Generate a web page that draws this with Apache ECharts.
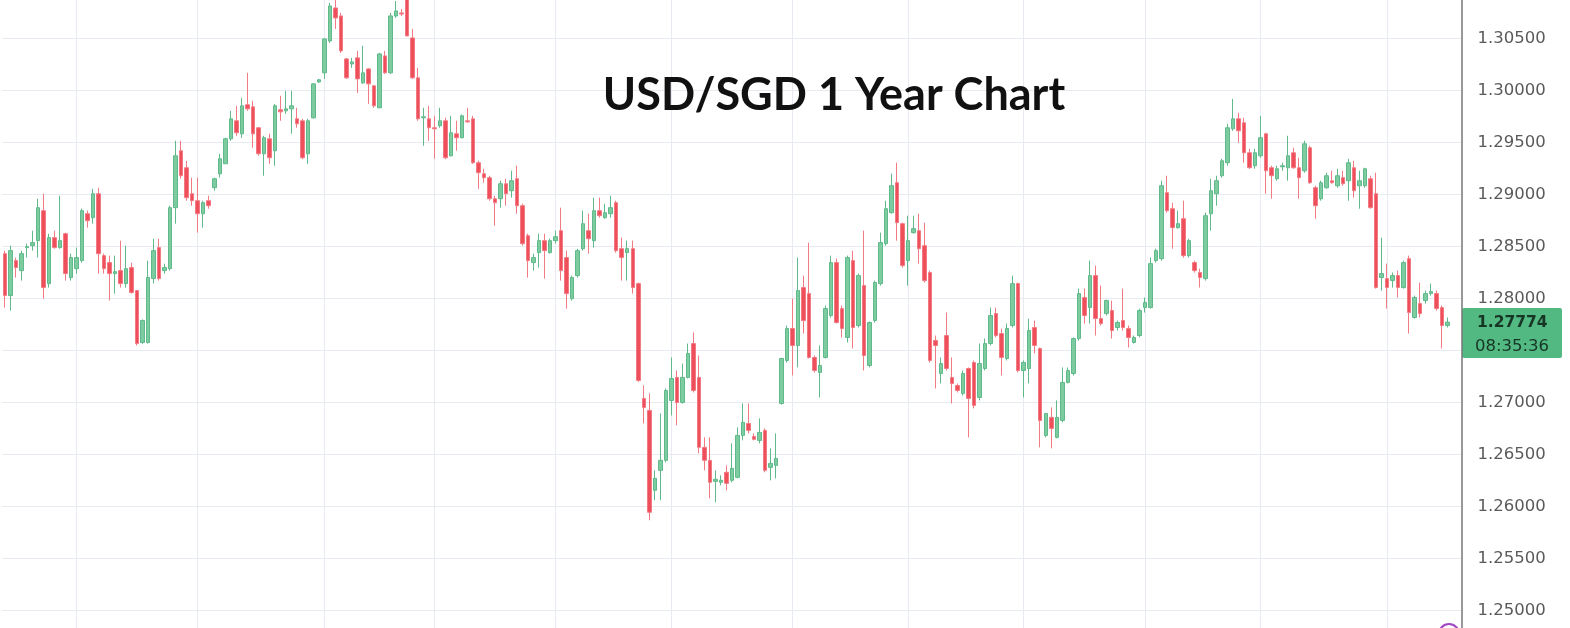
<!DOCTYPE html>
<html><head><meta charset="utf-8">
<script src="https://cdn.jsdelivr.net/npm/echarts/dist/echarts.min.js"></script>
<style>html,body{margin:0;padding:0;background:#fff}#c{width:1570px;height:628px}</style>
</head><body><div id="c"></div>
<script>
const opens=[1.28432,1.28029,1.28365,1.28269,1.28490,1.28509,1.28557,1.28845,1.28144,1.28586,1.28490,1.28624,1.28202,1.28288,1.28365,1.28816,1.28778,1.29008,1.28413,1.28346,1.28240,1.28269,1.28144,1.28298,1.28077,1.27578,1.27578,1.28192,1.28490,1.28269,1.28288,1.28874,1.29421,1.29258,1.29008,1.28941,1.28816,1.28941,1.29066,1.29200,1.29296,1.29536,1.29709,1.29584,1.29863,1.29843,1.29642,1.29392,1.29536,1.29421,1.29815,1.29805,1.29824,1.29728,1.29709,1.29392,1.29738,1.30083,1.30170,1.30477,1.30794,1.30717,1.30304,1.30256,1.30314,1.30074,1.30208,1.30045,1.29834,1.30333,1.30170,1.30717,1.30746,1.30890,1.30506,1.30122,1.29738,1.29728,1.29642,1.29661,1.29709,1.29373,1.29584,1.29546,1.29709,1.29728,1.29306,1.29200,1.29162,1.28960,1.28960,1.29104,1.29037,1.29152,1.28893,1.28605,1.28346,1.28442,1.28557,1.28442,1.28557,1.28653,1.28394,1.28000,1.28221,1.28480,1.28653,1.28557,1.28845,1.28778,1.28816,1.28922,1.28480,1.28442,1.28480,1.28144,1.27040,1.26925,1.26157,1.26349,1.26445,1.27021,1.27242,1.27002,1.27242,1.27568,1.27242,1.26570,1.26445,1.26243,1.26234,1.26330,1.26253,1.26282,1.26685,1.26800,1.26675,1.26637,1.26733,1.26378,1.26397,1.26992,1.27405,1.27712,1.27549,1.28106,1.28048,1.27434,1.27290,1.27434,1.27837,1.28346,1.27904,1.27626,1.28365,1.27741,1.28125,1.27357,1.27789,1.28144,1.28528,1.28826,1.29114,1.28720,1.28365,1.28634,1.28653,1.28509,1.28250,1.27597,1.27280,1.27645,1.27242,1.27165,1.27088,1.27328,1.27386,1.27050,1.27328,1.27568,1.27856,1.27664,1.27424,1.27741,1.28144,1.27309,1.27328,1.27722,1.27520,1.26685,1.26858,1.26666,1.26829,1.27194,1.27280,1.27616,1.28010,1.27914,1.28221,1.27808,1.27856,1.27885,1.27722,1.27789,1.27712,1.27578,1.27645,1.27914,1.27914,1.28365,1.28384,1.29018,1.28864,1.28682,1.28768,1.28413,1.28346,1.28250,1.28192,1.28816,1.29008,1.29181,1.29306,1.29632,1.29728,1.29690,1.29402,1.29277,1.29373,1.29584,1.29258,1.29152,1.29267,1.29258,1.29402,1.29258,1.29229,1.29450,1.29066,1.28960,1.29066,1.29133,1.29085,1.29162,1.29133,1.29258,1.29085,1.29085,1.29152,1.29008,1.28202,1.28192,1.28173,1.28221,1.28106,1.28384,1.27818,1.27952,1.27981,1.28048,1.28048,1.27914,1.27741];
const closes=[1.28029,1.28461,1.28298,1.28432,1.28499,1.28538,1.28874,1.28106,1.28586,1.28490,1.28557,1.28240,1.28394,1.28394,1.28845,1.28749,1.29008,1.28432,1.28288,1.28240,1.28259,1.28144,1.28288,1.28058,1.27568,1.27789,1.28202,1.28461,1.28192,1.28298,1.28874,1.29373,1.29181,1.28970,1.28941,1.28816,1.28922,1.28893,1.29152,1.29344,1.29536,1.29728,1.29594,1.29853,1.29824,1.29584,1.29392,1.29546,1.29354,1.29853,1.29795,1.29824,1.29853,1.29680,1.29354,1.29709,1.30064,1.30103,1.30496,1.30813,1.30698,1.30381,1.30122,1.30275,1.30112,1.30170,1.30064,1.29853,1.30352,1.30170,1.30717,1.30765,1.30736,1.30525,1.30122,1.29728,1.29747,1.29642,1.29632,1.29709,1.29354,1.29594,1.29546,1.29757,1.29699,1.29306,1.29210,1.29162,1.28960,1.28922,1.29104,1.29008,1.29133,1.28893,1.28528,1.28365,1.28394,1.28557,1.28461,1.28557,1.28595,1.28269,1.28048,1.28202,1.28461,1.28720,1.28576,1.28845,1.28797,1.28826,1.28874,1.28461,1.28394,1.28480,1.28106,1.27213,1.26954,1.25946,1.26272,1.26445,1.27117,1.27232,1.27002,1.27242,1.27472,1.27117,1.26570,1.26445,1.26234,1.26263,1.26253,1.26224,1.26368,1.26685,1.26810,1.26733,1.26647,1.26714,1.26349,1.26416,1.26464,1.27424,1.27712,1.27549,1.28077,1.27789,1.27434,1.27309,1.27357,1.27904,1.28346,1.27770,1.27712,1.28394,1.27722,1.28221,1.27453,1.27770,1.28154,1.28538,1.28864,1.29085,1.28730,1.28317,1.28557,1.28672,1.28480,1.28173,1.27405,1.27549,1.27376,1.27328,1.27184,1.27117,1.27280,1.27040,1.26973,1.27376,1.27568,1.27837,1.27645,1.27434,1.27712,1.28144,1.27309,1.27386,1.27693,1.27549,1.26829,1.26896,1.26752,1.26858,1.27194,1.27309,1.27616,1.28048,1.27837,1.28221,1.27808,1.27760,1.27981,1.27693,1.27770,1.27722,1.27626,1.27626,1.27885,1.27962,1.28336,1.28461,1.29085,1.28845,1.28682,1.28720,1.28413,1.28557,1.28269,1.28202,1.28797,1.29037,1.29133,1.29325,1.29642,1.29728,1.29613,1.29402,1.29258,1.29402,1.29546,1.29229,1.29181,1.29248,1.29277,1.29373,1.29258,1.29162,1.29488,1.29114,1.28893,1.29114,1.29181,1.29114,1.29181,1.29104,1.29306,1.29037,1.29133,1.29248,1.28874,1.28106,1.28240,1.28106,1.28221,1.28106,1.28346,1.27866,1.28010,1.27856,1.28048,1.28067,1.27904,1.27741,1.27774];
const lows=[1.27914,1.27885,1.28202,1.28173,1.28394,1.28461,1.28394,1.28000,1.28106,1.28480,1.28480,1.28173,1.28173,1.28240,1.28346,1.28682,1.28720,1.28240,1.28240,1.27981,1.28048,1.28106,1.28106,1.28048,1.27549,1.27565,1.27568,1.28144,1.28173,1.28240,1.28269,1.28720,1.29152,1.28941,1.28893,1.28634,1.28682,1.28864,1.29037,1.29162,1.29296,1.29517,1.29565,1.29546,1.29805,1.29450,1.29373,1.29181,1.29296,1.29277,1.29709,1.29776,1.29584,1.29642,1.29340,1.29296,1.29730,1.30074,1.30112,1.30458,1.30592,1.30362,1.30112,1.30218,1.29978,1.30064,1.29872,1.29834,1.29830,1.30160,1.30160,1.30698,1.30717,1.30520,1.30112,1.29709,1.29469,1.29517,1.29344,1.29642,1.29340,1.29365,1.29421,1.29540,1.29690,1.29296,1.29056,1.29114,1.28941,1.28701,1.28874,1.28893,1.28970,1.28816,1.28509,1.28202,1.28269,1.28298,1.28192,1.28432,1.28528,1.28173,1.27904,1.27981,1.28202,1.28461,1.28432,1.28490,1.28778,1.28768,1.28778,1.28442,1.28173,1.28173,1.28048,1.27200,1.26800,1.25869,1.26061,1.26061,1.26426,1.26877,1.26781,1.26990,1.27232,1.27098,1.26512,1.26349,1.26080,1.26042,1.26205,1.26157,1.26234,1.26272,1.26637,1.26704,1.26637,1.26608,1.26330,1.26253,1.26272,1.26980,1.27386,1.27261,1.27338,1.27664,1.27424,1.27290,1.27050,1.27424,1.27818,1.27760,1.27626,1.27578,1.27520,1.27722,1.27309,1.27338,1.27770,1.28125,1.28509,1.28816,1.28557,1.28298,1.28125,1.28624,1.28336,1.28154,1.27386,1.27136,1.27184,1.27309,1.26992,1.27098,1.27069,1.26666,1.26944,1.27021,1.27309,1.27549,1.27626,1.27261,1.27405,1.27722,1.27290,1.27050,1.27184,1.27472,1.26570,1.26666,1.26560,1.26656,1.26810,1.27184,1.27261,1.27597,1.27760,1.27760,1.27645,1.27741,1.27837,1.27616,1.27693,1.27693,1.27530,1.27568,1.27626,1.27866,1.27904,1.28346,1.28365,1.28826,1.28480,1.28672,1.28394,1.28394,1.28250,1.28106,1.28173,1.28653,1.28893,1.29162,1.29277,1.29613,1.29498,1.29306,1.29248,1.29248,1.29354,1.29008,1.28960,1.29133,1.29229,1.29133,1.29248,1.28960,1.29210,1.29104,1.28768,1.28941,1.29056,1.29104,1.29066,1.29085,1.28941,1.28970,1.28864,1.29066,1.28864,1.28096,1.28077,1.27904,1.28106,1.28010,1.28096,1.27664,1.27808,1.27818,1.27952,1.28029,1.27885,1.27520,1.27722];
const highs=[1.28461,1.28509,1.28394,1.28461,1.28528,1.28653,1.28960,1.29008,1.28624,1.28653,1.28989,1.28634,1.28432,1.28490,1.28864,1.28845,1.29056,1.29066,1.28432,1.28413,1.28413,1.28557,1.28509,1.28346,1.28080,1.27800,1.28365,1.28576,1.28576,1.28336,1.28893,1.29517,1.29517,1.29325,1.29162,1.29162,1.28941,1.28989,1.29162,1.29392,1.29546,1.29805,1.29853,1.29930,1.30170,1.29901,1.29650,1.29565,1.29584,1.29872,1.29949,1.29997,1.29997,1.29834,1.29728,1.29728,1.30070,1.30112,1.30500,1.30842,1.30880,1.30746,1.30314,1.30314,1.30381,1.30429,1.30215,1.30050,1.30362,1.30381,1.30746,1.30861,1.30784,1.30940,1.30592,1.30218,1.29834,1.29853,1.29757,1.29834,1.29738,1.29757,1.29709,1.29770,1.29834,1.29757,1.29325,1.29248,1.29181,1.28989,1.29133,1.29152,1.29229,1.29277,1.28912,1.28624,1.28432,1.28624,1.28624,1.28576,1.28653,1.28874,1.28461,1.28221,1.28480,1.28845,1.28816,1.28970,1.28970,1.28912,1.28989,1.28941,1.28586,1.28557,1.28557,1.28154,1.27165,1.27088,1.26349,1.26896,1.27136,1.27434,1.27309,1.27376,1.27568,1.27674,1.27453,1.26666,1.26666,1.26349,1.26301,1.26397,1.26608,1.26762,1.26992,1.26992,1.26704,1.26848,1.26752,1.26560,1.26704,1.27430,1.27741,1.28000,1.28394,1.28221,1.28538,1.27453,1.27549,1.27933,1.28413,1.28384,1.27933,1.28413,1.28461,1.28240,1.28653,1.27780,1.28173,1.28634,1.28941,1.29200,1.29306,1.28730,1.28797,1.28797,1.28816,1.28730,1.28269,1.27645,1.27434,1.27866,1.27434,1.27184,1.27309,1.27338,1.27405,1.27568,1.27616,1.27914,1.27914,1.27712,1.27760,1.28221,1.28154,1.27405,1.27808,1.27789,1.27530,1.26900,1.26954,1.27021,1.27338,1.27338,1.27626,1.28096,1.28096,1.28365,1.28317,1.28125,1.27990,1.27981,1.27789,1.28096,1.27741,1.27645,1.27904,1.28010,1.28394,1.28480,1.29133,1.29181,1.28922,1.28845,1.28941,1.28576,1.28365,1.28288,1.28826,1.29152,1.29181,1.29344,1.29680,1.29920,1.29786,1.29738,1.29440,1.29440,1.29757,1.29594,1.29277,1.29277,1.29306,1.29565,1.29450,1.29354,1.29517,1.29469,1.29085,1.29133,1.29210,1.29229,1.29248,1.29229,1.29344,1.29325,1.29229,1.29258,1.29181,1.29210,1.28586,1.28336,1.28250,1.28269,1.28365,1.28413,1.28029,1.28154,1.28077,1.28144,1.28077,1.27933,1.27818];
const monthStarts=[13,35,58,78,100,121,143,164,185,207,228,251];
const titleText='USD/SGD 1 Year Chart';
const lastPrice=1.27774;
const lastTime='08:35:36';
const emptySlots=2;

const categories=[];
for(let i=0;i<opens.length+emptySlots;i++) categories.push('d'+i);
const candleData=opens.map((o,i)=>[o,closes[i],lows[i],highs[i]]);

const AXIS_X=1461.5;
const chart=echarts.init(document.getElementById('c'),null,{renderer:'canvas'});
chart.setOption({
  animation:false,
  backgroundColor:'#ffffff',
  grid:{left:2.25,right:1570-AXIS_X,top:-13.5,bottom:-34.7,outerBoundsMode:'none',containLabel:false},
  xAxis:{type:'category',data:categories,boundaryGap:true,show:false,splitLine:{show:false}},
  yAxis:{type:'value',position:'right',min:1.245,max:1.31,interval:0.005,scale:true,
    axisLine:{show:true,lineStyle:{color:'#767676',width:1.5}},
    axisTick:{show:false},
    splitLine:{show:true,lineStyle:{color:'#e7eaf0',width:1}},
    axisLabel:{show:true,margin:16,color:'#5a5a5a',fontSize:16.5,fontFamily:'"DejaVu Sans", Verdana, sans-serif',
      formatter:function(v){return Math.abs(v-1.275)<1e-7?'':v.toFixed(5);}}
  },
  series:[{
    type:'candlestick',
    data:candleData,
    barWidth:4,
    z:3,
    itemStyle:{color:'#7dcca0',color0:'#ef4f5b',borderColor:'#5fb98a',borderColor0:'#f27a83',borderWidth:1},
    markLine:{silent:true,symbol:['none','none'],z:1,animation:false,
      label:{show:false},
      lineStyle:{color:'#e7eaf0',width:1,type:'solid'},
      emphasis:{disabled:true},
      data:monthStarts.map(i=>({xAxis:i}))}
  }]
});
const yp=chart.convertToPixel({yAxisIndex:0},lastPrice);
chart.setOption({
  graphic:[
    {type:'text',position:[834,95],z:100,style:{text:titleText,x:0,y:0,fill:'#111111',font:'bold 45px Lato, "Open Sans", sans-serif',align:'center',verticalAlign:'middle'}},
    {type:'group',position:[AXIS_X+0.5,yp-14],z:100,children:[
      {type:'rect',shape:{x:0,y:0,width:100,height:50,r:2},style:{fill:'#52b982'}},
      {type:'text',style:{x:15,y:15,text:lastPrice.toFixed(5),fill:'#173524',font:'bold 15.5px "DejaVu Sans", Verdana, sans-serif',verticalAlign:'middle'}},
      {type:'text',style:{x:13,y:39,text:lastTime,fill:'#173524',font:'16.5px "DejaVu Sans", Verdana, sans-serif',verticalAlign:'middle'}}
    ]},
    {type:'circle',z:100,shape:{cx:1449,cy:634,r:10},style:{fill:'none',stroke:'#a048c4',lineWidth:2}}
  ]
});
</script></body></html>
